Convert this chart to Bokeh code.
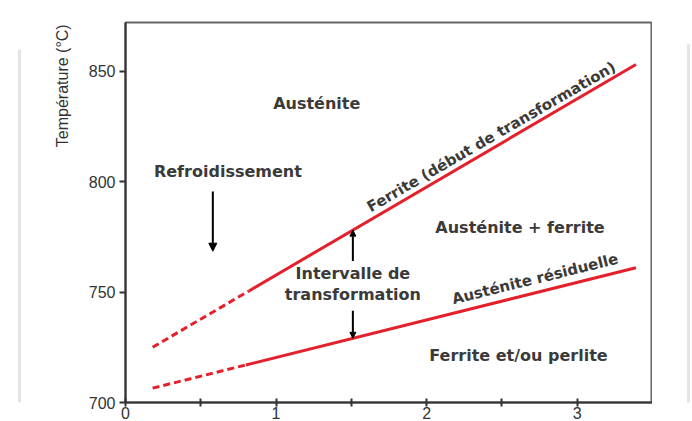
import math
from bokeh.plotting import figure
from bokeh.layouts import row
from bokeh.models import Range1d, FixedTicker, Arrow, NormalHead, ColumnDataSource
from bokeh.core.properties import value
from bokeh.embed import file_html
from bokeh.resources import INLINE

# ---- data ----
upper_x = [0.18, 0.82, 3.39]          # Ferrite (début de transformation)
upper_y = [725.0, 750.5, 853.0]
lower_x = [0.18, 0.80, 3.39]          # Austénite résiduelle
lower_y = [706.5, 717.0, 761.0]

x_ticks = [0, 0.5, 1, 1.5, 2, 2.5, 3]
x_tick_labels = {0.5: "", 1.5: "", 2.5: ""}
y_ticks = [700, 750, 800, 850]
y_title = "Température (°C)"

region_labels = ["Austénite", "Refroidissement", "Austénite + ferrite",
                 "Intervalle de", "transformation", "Ferrite et/ou perlite"]
region_x = [1.27, 0.68, 2.62, 1.51, 1.51, 2.61]
region_y = [835.5, 804.5, 779.0, 758.5, 749.0, 721.5]

line_labels = ["Ferrite (début de transformation)", "Austénite résiduelle"]
line_label_x = [2.43, 2.72]
line_label_gap = [5.5, 6.3]           # distance above the curve, in °C

cool_arrow = dict(x=0.58, y_start=795.5, y_end=768.5)
interval_x = 1.51
interval_upper_start = 764.0
interval_lower_start = 741.5

X_MIN, X_MAX = 0.0, 3.5
Y_MIN, Y_MAX = 700.0, 872.0

H = 421
LEFT_W, MAIN_W, RIGHT_W = 80, 572, 40
MB_LEFT, MB_TOP, AXIS_H = 45, 22, 23

TEXT_COLOR = "#3a3a3a"
RED = "#e3202b"
FAINT = "#e4e4e4"

# ---- left strip: y title and faint border of the original picture ----
left = figure(width=LEFT_W, height=H, output_backend="svg", toolbar_location=None,
              x_range=Range1d(0, LEFT_W), y_range=Range1d(0, H),
              x_axis_type=None, y_axis_type=None, min_border=0)
left.outline_line_color = None
left.xgrid.visible = False
left.ygrid.visible = False
left.segment(x0=[19], y0=[0], x1=[19], y1=[H - 30], line_color=FAINT, line_width=3)
left.text(x=[62], y=[H - 2], text=[y_title], angle=math.pi / 2,
          text_align="right", text_baseline="middle",
          text_font=value("Liberation Sans"), text_font_size="16px",
          text_color="#333333")

# ---- main chart ----
p = figure(width=MAIN_W, height=H, output_backend="svg", toolbar_location=None,
           x_range=Range1d(X_MIN, X_MAX), y_range=Range1d(Y_MIN, Y_MAX),
           min_border_left=MB_LEFT, min_border_right=0, min_border_top=MB_TOP,
           min_border_bottom=0)
p.background_fill_color = "white"
p.border_fill_color = "white"
p.outline_line_color = "#666666"
p.outline_line_width = 2
p.xgrid.visible = False
p.ygrid.visible = False

for ax in (p.xaxis, p.yaxis):
    ax.axis_line_color = "#333333"
    ax.axis_line_width = 2
    ax.major_tick_line_color = "#333333"
    ax.major_tick_line_width = 2
    ax.minor_tick_line_color = None
    ax.major_label_text_font = "Liberation Sans"
    ax.major_label_text_font_size = "16px"
    ax.major_label_text_color = "#333333"

p.xaxis.ticker = FixedTicker(ticks=x_ticks)
p.xaxis.major_label_overrides = x_tick_labels
p.xaxis.major_tick_in = 4
p.xaxis.major_tick_out = 4
p.xaxis.major_label_standoff = 0

p.yaxis.ticker = FixedTicker(ticks=y_ticks)
p.yaxis.major_tick_in = 0
p.yaxis.major_tick_out = 6
p.yaxis.major_label_standoff = 4

# ---- curves ----
for xs, ys in ((upper_x, upper_y), (lower_x, lower_y)):
    p.line(xs[:2], ys[:2], line_color=RED, line_width=3, line_dash="7 4")
    p.line(xs[1:], ys[1:], line_color=RED, line_width=3)

# ---- region texts ----
src = ColumnDataSource(dict(x=region_x, y=region_y, t=region_labels))
p.text(x="x", y="y", text="t", source=src, text_align="center",
       text_baseline="middle", text_font=value("DejaVu Sans"),
       text_font_style="bold", text_font_size="16px", text_color=TEXT_COLOR)

# ---- texts along the curves ----
frame_w = MAIN_W - MB_LEFT
frame_h = H - MB_TOP - AXIS_H
px_per_x = frame_w / (X_MAX - X_MIN)
px_per_y = frame_h / (Y_MAX - Y_MIN)

def interp(xs, ys, x):
    for i in range(len(xs) - 1):
        if xs[i] <= x <= xs[i + 1]:
            t = (x - xs[i]) / (xs[i + 1] - xs[i])
            return ys[i] + t * (ys[i + 1] - ys[i])
    return ys[-1]

for lbl, lx, gap, (xs, ys) in zip(line_labels, line_label_x, line_label_gap,
                                  ((upper_x, upper_y), (lower_x, lower_y))):
    slope = (ys[-1] - ys[1]) / (xs[-1] - xs[1])
    ang = math.atan(slope * px_per_y / px_per_x)
    ly = interp(xs, ys, lx) + gap
    p.text(x=[lx], y=[ly], text=[lbl], angle=ang, text_align="center",
           text_baseline="middle", text_font=value("DejaVu Sans"),
           text_font_style="bold", text_font_size="15px", text_color=TEXT_COLOR)

# ---- arrows ----
p.add_layout(Arrow(end=NormalHead(size=8, fill_color="black", line_color="black"),
                   x_start=cool_arrow["x"], y_start=cool_arrow["y_start"],
                   x_end=cool_arrow["x"], y_end=cool_arrow["y_end"],
                   line_width=2, line_color="black"))
p.add_layout(Arrow(end=NormalHead(size=6, fill_color="black", line_color="black"),
                   x_start=interval_x, y_start=interval_upper_start,
                   x_end=interval_x, y_end=interp(upper_x, upper_y, interval_x),
                   line_width=2, line_color="black"))
p.add_layout(Arrow(end=NormalHead(size=6, fill_color="black", line_color="black"),
                   x_start=interval_x, y_start=interval_lower_start,
                   x_end=interval_x, y_end=interp(lower_x, lower_y, interval_x),
                   line_width=2, line_color="black"))

# ---- right strip: faint border of the original picture ----
right = figure(width=RIGHT_W, height=H, output_backend="svg", toolbar_location=None,
               x_range=Range1d(0, RIGHT_W), y_range=Range1d(0, H),
               x_axis_type=None, y_axis_type=None, min_border=0)
right.outline_line_color = None
right.xgrid.visible = False
right.ygrid.visible = False
right.segment(x0=[36], y0=[0], x1=[36], y1=[H - 24], line_color=FAINT, line_width=3)

layout = row(left, p, right, spacing=0)
open("out.html", "w").write(file_html(layout, INLINE))
